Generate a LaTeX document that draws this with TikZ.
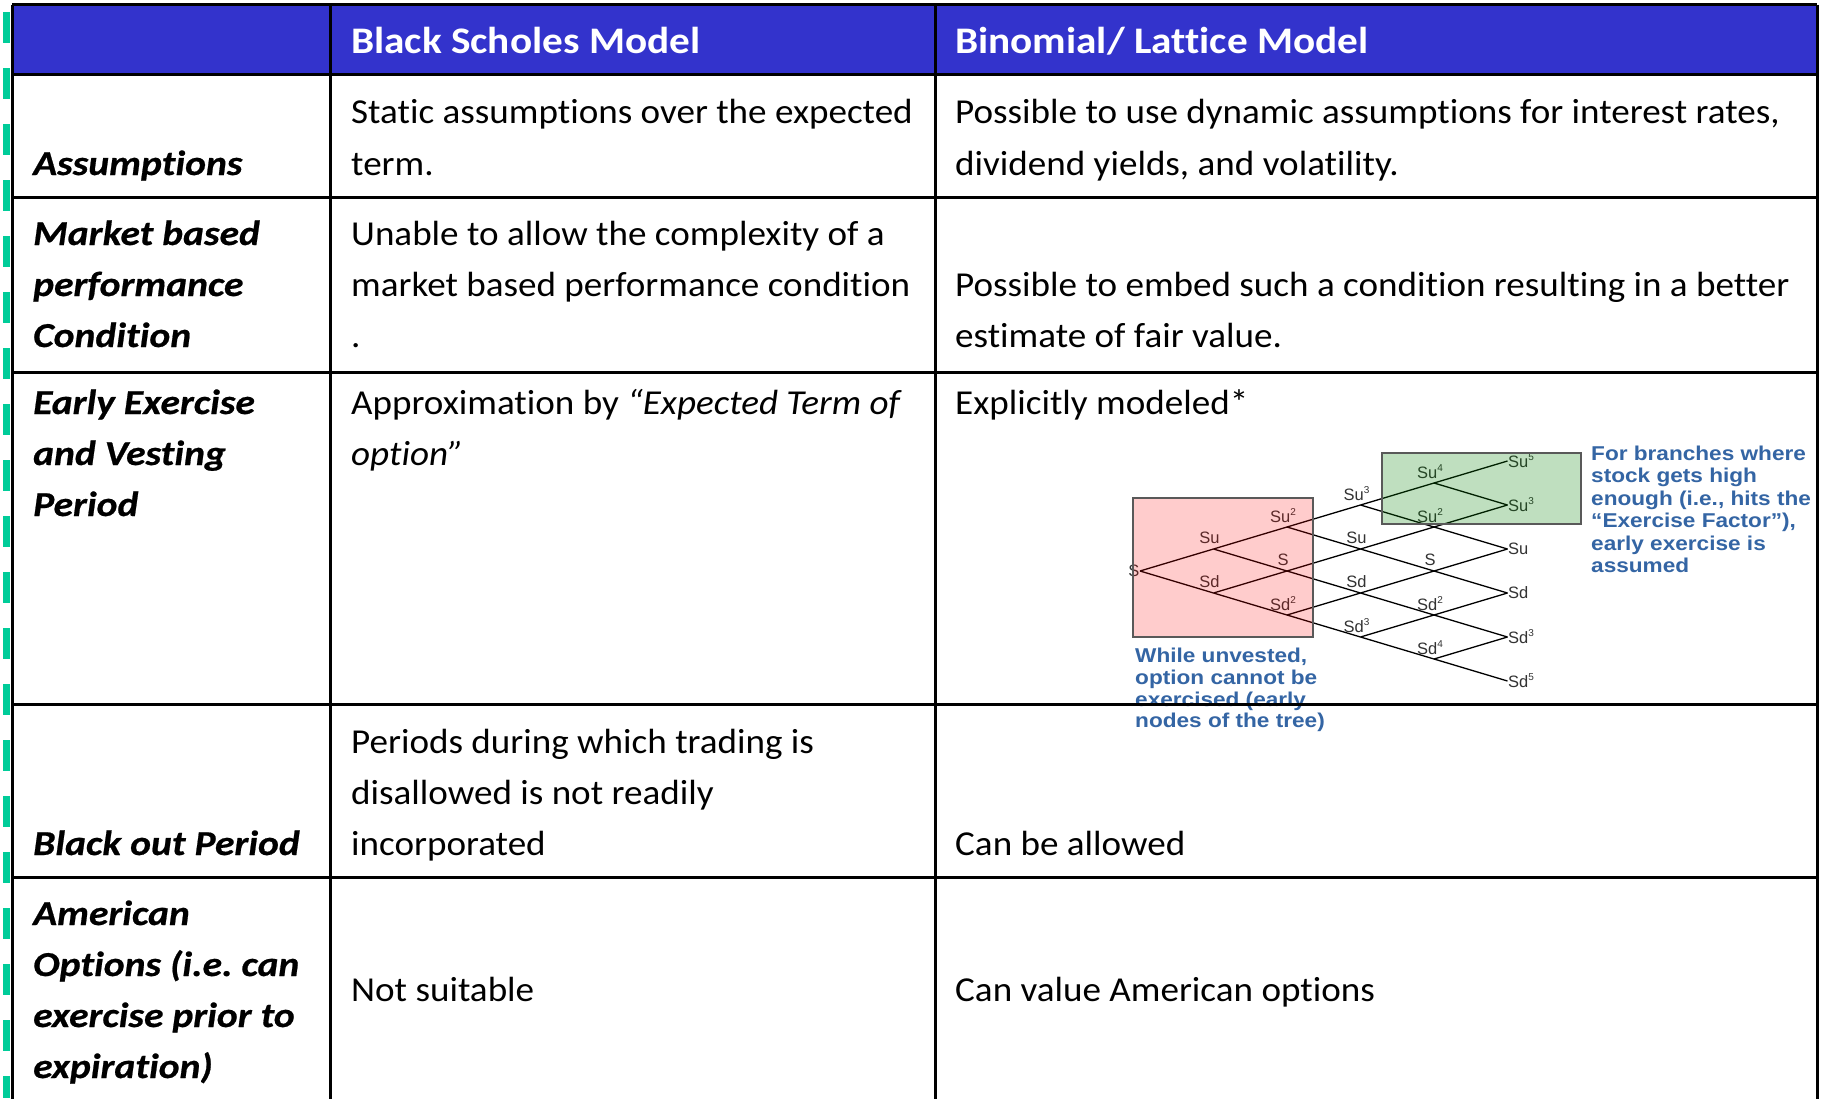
\documentclass[tikz,border=0pt]{standalone}
\usepackage{fontspec}
\setmainfont{Carlito}[Ligatures={NoCommon,NoRare,NoDiscretionary}]
\newfontfamily\bodyfont{Carlito}[Ligatures={NoCommon,NoRare,NoDiscretionary}, FakeStretch=1.06]
\newfontfamily\labfont{Carlito}[Ligatures={NoCommon,NoRare,NoDiscretionary}, FakeStretch=1.13, BoldItalicFont={* Bold Italic}, BoldItalicFeatures={FakeBold=0.6, FakeStretch=1.13}]
\newfontfamily\hdrfont{Carlito}[Ligatures={NoCommon,NoRare,NoDiscretionary}, FakeStretch=1.1]
\newfontfamily\treefont{Liberation Sans}
\newfontfamily\annfont{Liberation Sans}[FakeStretch=1.13]
\definecolor{hdrblue}{RGB}{51,51,204}
\definecolor{dashgreen}{RGB}{0,204,153}
\definecolor{annblue}{RGB}{52,101,164}
\definecolor{boxgreen}{RGB}{0,128,0}
\newcommand\spr[1]{\raisebox{0.42em}{\fontsize{10}{10}\selectfont #1}}
\frenchspacing
\tikzset{
  body/.style={anchor=base west, inner sep=0pt, font=\bodyfont\fontsize{35}{42}\selectfont\frenchspacing},
  lab/.style={anchor=base west, inner sep=0pt, font=\labfont\fontsize{35}{42}\selectfont\bfseries\itshape\frenchspacing},
  hdr/.style={anchor=base west, inner sep=0pt, text=white, font=\hdrfont\fontsize{37.5}{42}\selectfont\bfseries},
  gridline/.style={line width=3pt, black},
  tedge/.style={line width=1.3pt, black},
  tlab/.style={inner sep=0pt, text=black!80, font=\treefont\fontsize{16.5}{16.5}\selectfont},
  ann/.style={anchor=base west, inner sep=0pt, text=annblue, font=\annfont\bfseries\fontsize{20}{20}\selectfont\frenchspacing},
}
\begin{document}
\begin{tikzpicture}[x=1pt,y=-1pt]
\useasboundingbox (0,0) rectangle (1821,1098);
\fill[white] (0,0) rectangle (1821,1098);
% left dashes
\draw[dashgreen, line width=7.5pt, dash pattern=on 31pt off 25pt] (6.5,12) -- (6.5,1098);
% header
\fill[hdrblue] (12,4.5) rectangle (1817,74.7);
\node[hdr] (h1) at (351,53) {Black Scholes Model};
\node[hdr] (h2) at (955,53) {Binomial/ Lattice Model};
% row 1
\node[lab]  (r1a) at (33,175) {Assumptions};
\node[body] (r1b1) at (351,123) {Static assumptions over the expected};
\node[body] (r1b2) at (351,175) {term.};
\node[body] (r1c1) at (955,123) {Possible to use dynamic assumptions for interest rates,};
\node[body] (r1c2) at (955,175) {dividend yields, and volatility.};
% row 2
\node[lab]  (r2a1) at (33,245) {Market based};
\node[lab]  (r2a2) at (33,296) {performance};
\node[lab]  (r2a3) at (33,347) {Condition};
\node[body] (r2b1) at (351,245) {Unable to allow the complexity of a};
\node[body] (r2b2) at (351,296) {market based performance condition};
\node[body] (r2b3) at (351,347) {.};
\node[body] (r2c1) at (955,296) {Possible to embed such a condition resulting in a better};
\node[body] (r2c2) at (955,347) {estimate of fair value.};
% row 3
\node[lab]  (r3a1) at (33,414) {Early Exercise};
\node[lab]  (r3a2) at (33,465) {and Vesting};
\node[lab]  (r3a3) at (33,516) {Period};
\node[body] (r3b1) at (351,414) {Approximation by \textit{“Expected Term of}};
\node[body] (r3b2) at (351,465) {\textit{option”}};
\node[body] (r3c1) at (955,414) {Explicitly modeled*};
% row 4
\node[lab]  (r4a) at (33,855) {Black out Period};
\node[body] (r4b1) at (351,753) {Periods during which trading is};
\node[body] (r4b2) at (351,804) {disallowed is not readily};
\node[body] (r4b3) at (351,855) {incorporated};
\node[body] (r4c) at (955,855) {Can be allowed};
% row 5
\node[lab]  (r5a1) at (33,925) {American};
\node[lab]  (r5a2) at (33,976) {Options (i.e. can};
\node[lab]  (r5a3) at (33,1027) {exercise prior to};
\node[lab]  (r5a4) at (33,1078) {expiration)};
\node[body] (r5b) at (351,1001) {Not suitable};
\node[body] (r5c) at (955,1001) {Can value American options};
% binomial tree
\foreach \i in {0,...,5}{
  \foreach \j in {0,...,\i}{
    \coordinate (t\i-\j) at ({1140+73.5*\i},{571-22*(2*\j-\i)});
  }
}
\foreach \i in {0,...,4}{
  \pgfmathtruncatemacro\ni{\i+1}
  \foreach \j in {0,...,\i}{
    \pgfmathtruncatemacro\nj{\j+1}
    \draw[tedge] (t\i-\j) -- (t\ni-\nj);
    \draw[tedge] (t\i-\j) -- (t\ni-\j);
  }
}
\node[tlab, anchor=east] (L0-0) at ([xshift=-0.5pt]t0-0) {S};
\foreach \i/\j/\t in {1/1/Su, 1/0/Sd, 2/2/Su\spr{2}, 2/1/S, 2/0/Sd\spr{2},
  3/3/Su\spr{3}, 3/2/Su, 3/1/Sd, 3/0/Sd\spr{3},
  4/4/Su\spr{4}, 4/3/Su\spr{2}, 4/2/S, 4/1/Sd\spr{2}, 4/0/Sd\spr{4}}{
  \node[tlab] (L\i-\j) at ([shift={(-4,-11.5)}]t\i-\j) {\t};
}
\foreach \j/\t in {5/Su\spr{5}, 4/Su\spr{3}, 3/Su, 2/Sd, 1/Sd\spr{3}, 0/Sd\spr{5}}{
  \node[tlab, anchor=west] (L5-\j) at ([xshift=0.5pt]t5-\j) {\t};
}
% overlays
\fill[red, fill opacity=0.2] (1133,498) rectangle (1313,637);
\draw[black!65, line width=1.3pt] (1133,498) rectangle (1313,637);
\fill[boxgreen, fill opacity=0.25] (1382,453) rectangle (1581,524);
\draw[black!65, line width=1.3pt] (1382,453) rectangle (1581,524);
% annotations
\node[ann] (a1) at (1591,460) {For branches where};
\node[ann] (a2) at (1591,482.5) {stock gets high};
\node[ann] (a3) at (1591,505) {enough (i.e., hits the};
\node[ann] (a4) at (1591,527.5) {“Exercise Factor”),};
\node[ann] (a5) at (1591,550) {early exercise is};
\node[ann] (a6) at (1591,572.5) {assumed};
\node[ann] (b1) at (1135,662) {While unvested,};
\node[ann] (b2) at (1135,684) {option cannot be};
\node[ann] (b3) at (1135,706) {exercised (early};
\node[ann] (b4) at (1135,727) {nodes of the tree)};
% grid
\draw[gridline] (12,4.5) -- (1817,4.5);
\draw[gridline] (12,4.5) -- (12,1100);
\draw[gridline] (1817,4.5) -- (1817,1100);
\foreach \yy in {74.7,197.3,372,704,877}{
  \draw[gridline] (12,\yy) -- (1817,\yy);
}
\draw[gridline] (330,4.5) -- (330,1100);
\draw[gridline] (935,4.5) -- (935,1100);
\end{tikzpicture}
\end{document}
